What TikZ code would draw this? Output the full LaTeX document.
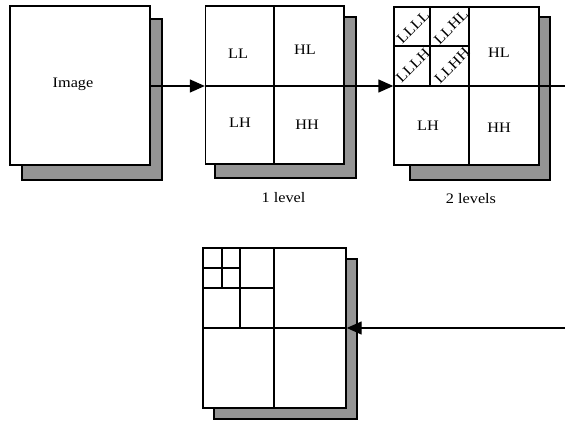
\documentclass[tikz,border=0pt]{standalone}
\usepackage{fontspec}
\setmainfont{Liberation Serif}[FakeStretch=1.12]
\usetikzlibrary{arrows.meta}
\begin{document}
\begin{tikzpicture}[x=1pt,y=-1pt,line width=1.4pt,
  panel/.style={draw=black,fill=white,line width=1.4pt},
  shadowbox/.style={draw=black,fill=black!42,line width=1.4pt},
  divider/.style={draw=black,line width=1.4pt},
  lab/.style={font=\fontsize{14.5}{16}\selectfont,inner sep=0pt},
  smalllab/.style={font=\fontsize{14.5}{16}\selectfont,inner sep=0pt,rotate=45},
  flow/.style={draw=black,line width=1.4pt,-{Triangle[length=15pt,width=13pt]}}]
\useasboundingbox (0,0) rectangle (565,423);
% shadows
\draw[shadowbox] (22,19) rectangle (162,180);
\draw[shadowbox] (215,17) rectangle (356,178);
\draw[shadowbox] (410,17) rectangle (550,180);
\draw[shadowbox] (214,259) rectangle (357,419);
% box 1
\node[panel,minimum width=140pt,minimum height=159pt,inner sep=0pt] (img) at (80,85.5) {};
\node[lab] (imgtxt) at (73,84) {Image};
% box 2
\node[panel,minimum width=138.5pt,minimum height=158pt,inner sep=0pt] (one) at (274.75,85) {};
\draw[divider] (274,6) -- (274,164);
\draw[divider] (205.5,86) -- (344,86);
\node[lab] (ll1) at (238,54) {LL};
\node[lab] (hl1) at (305,50) {HL};
\node[lab] (lh1) at (240,123) {LH};
\node[lab] (hh1) at (307,124.5) {HH};
\node[lab] (lev1) at (283.5,198) {1 level};
% box 3
\node[panel,minimum width=145pt,minimum height=158pt,inner sep=0pt] (two) at (466.5,86) {};
\draw[divider] (469,7) -- (469,165);
\draw[divider] (394,86) -- (539,86);
\draw[divider] (430,7) -- (430,86);
\draw[divider] (394,46) -- (469,46);
\node[smalllab] (llll) at (413,27) {LLLL};
\node[smalllab] (llhl) at (451,27) {LLHL};
\node[smalllab] (lllh) at (413,65.5) {LLLH};
\node[smalllab] (llhh) at (452,65.5) {LLHH};
\node[lab] (hl2) at (499,53) {HL};
\node[lab] (lh2) at (428,126) {LH};
\node[lab] (hh2) at (499,127.5) {HH};
\node[lab] (lev2) at (471,199) {2 levels};
% box 4
\node[panel,minimum width=143pt,minimum height=160pt,inner sep=0pt] (three) at (274.5,328) {};
\draw[divider] (274,248) -- (274,408);
\draw[divider] (203,328) -- (346,328);
\draw[divider] (240,248) -- (240,328);
\draw[divider] (203,288) -- (274,288);
\draw[divider] (222,248) -- (222,288);
\draw[divider] (203,268) -- (240,268);
% connectors
\coordinate (edgeA) at (565,86);
\coordinate (edgeB) at (565,328);
\draw[flow] (img.east |- 0,86) -- (one.west |- 0,86);
\draw[flow] (one.east |- 0,86) -- (two.west |- 0,86);
\draw[divider] (two.east |- 0,86) -- (edgeA);
\draw[flow] (edgeB) -- (three.east);
\end{tikzpicture}
\end{document}
